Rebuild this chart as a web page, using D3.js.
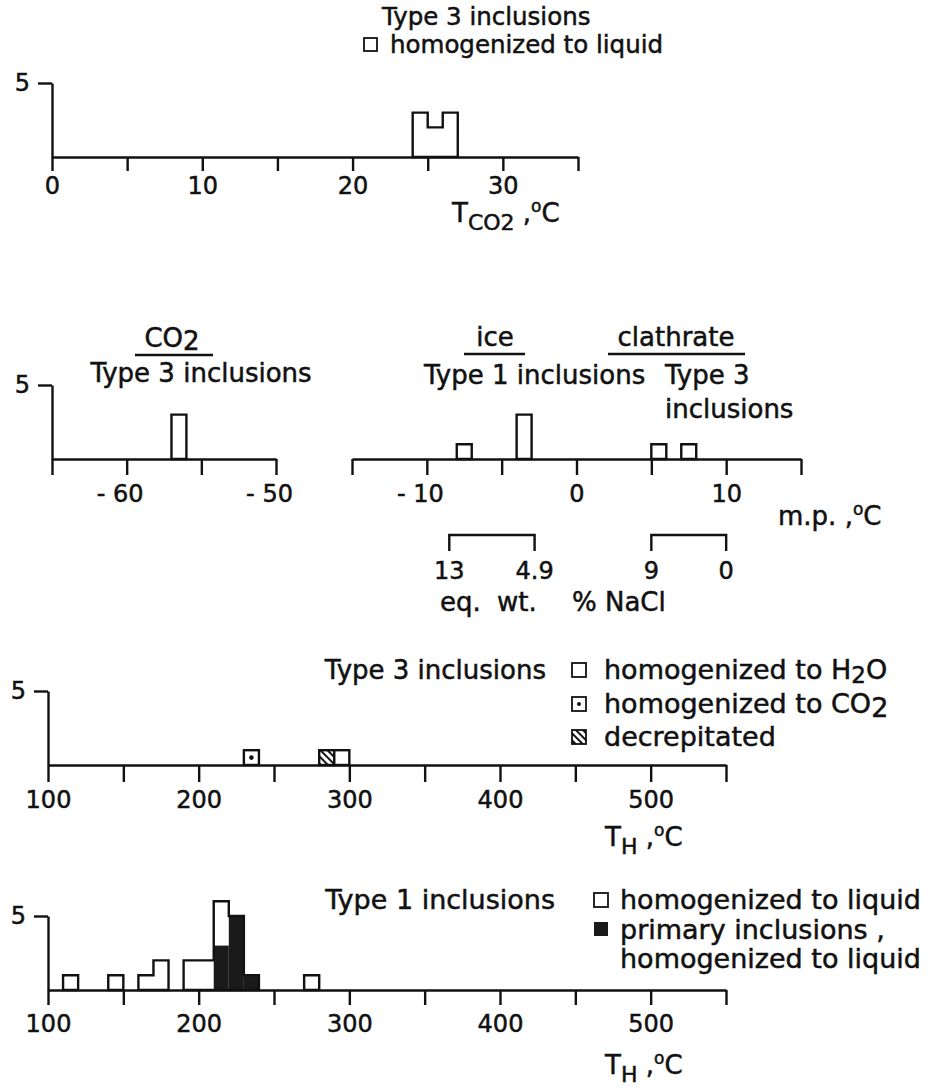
<!DOCTYPE html>
<html>
<head>
<meta charset="utf-8">
<script src="https://cdn.jsdelivr.net/npm/d3@7"></script>
<style>
  body { margin: 0; background: #fff; }
  svg { display: block; }
  text { font-family: "DejaVu Sans", sans-serif; font-size: 26px; fill: #111; stroke: #111; stroke-width: 0.5px; }
  .axis path, .axis line { stroke: #111; stroke-width: 2.4; }
  .axis text { font-size: 24px; }
  text.small { font-size: 24.5px; }
  text.leg { font-size: 27px; }
</style>
</head>
<body>
<svg width="930" height="1089"></svg>
<script>
// T_CO2 histogram, type 3 inclusions (bin start, 1 degree bins)
const tco2Bins = [24, 25, 26];
const tco2Counts = [3, 2, 3];

// melting points
const co2MeltBins = [-57];
const co2MeltCounts = [3];
const iceBins = [-8, -4];
const iceCounts = [1, 3];
const clathBins = [5, 7];
const clathCounts = [1, 1];
const iceSalinity = [-8.5, -2.8];
const iceSalinityLabels = ['13', '4.9'];
const clathSalinity = [5, 10];
const clathSalinityLabels = ['9', '0'];

// T_H type 3 inclusions (10 degree bins)
const th3Bins = [230, 280, 290];
const th3Kinds = ['co2', 'decrep', 'h2o'];

// T_H type 1 inclusions (10 degree bins)
const th1Bins = [110, 140, 160, 170, 190, 200, 210, 220, 230, 270];
const th1Total = [1, 1, 1, 2, 2, 2, 6, 5, 1, 1];
const th1Primary = [0, 0, 0, 0, 0, 0, 3, 5, 1, 0];

const svg = d3.select('svg');
const ink = '#111';
const sw = 2.4;

const defs = svg.append('defs');
defs.append('pattern')
  .attr('id', 'hatch')
  .attr('patternUnits', 'userSpaceOnUse')
  .attr('width', 5)
  .attr('height', 5)
  .attr('patternTransform', 'rotate(-45)')
  .append('line')
  .attr('x1', 1).attr('x2', 1).attr('y1', 0).attr('y2', 5)
  .attr('stroke', ink).attr('stroke-width', 2);

// step outline of contiguous bins
const outline = (g, x, y, starts, counts, w) => {
  const runs = [];
  starts.forEach((s, i) => {
    const last = runs[runs.length - 1];
    const d = { x: s, c: counts[i] };
    if (last && last[last.length - 1].x + w === s) last.push(d);
    else runs.push([d]);
  });
  const pts = runs.map(r => r.concat([{ x: r[r.length - 1].x + w, c: r[r.length - 1].c }]));
  const area = d3.area()
    .curve(d3.curveStepAfter)
    .x(d => x(d.x))
    .y0(y(0))
    .y1(d => y(d.c));
  g.selectAll(null)
    .data(pts)
    .enter()
    .append('path')
    .attr('d', area)
    .attr('fill', 'none')
    .attr('stroke', ink)
    .attr('stroke-width', sw);
};

const minus = d => d < 0 ? '- ' + Math.abs(d) : d;

const xAxis = (g, x, ticks, labels, size, pad) => {
  g.attr('class', 'axis')
    .call(d3.axisBottom(x)
      .tickValues(ticks)
      .tickSize(size)
      .tickSizeOuter(0)
      .tickPadding(pad)
      .tickFormat(d => labels.includes(d) ? minus(d) : ''));
  g.selectAll('.tick text').attr('dx', d => d < 0 ? -7 : 0);
};

const yAxis = (g, y) => {
  g.attr('class', 'axis')
    .call(d3.axisLeft(y).tickValues([5]).tickFormat(d3.format('d')).tickSize(14).tickSizeOuter(0).tickPadding(8));
};

const label = (x, y, parts, anchor, cls) => {
  const t = svg.append('text').attr('x', x).attr('y', y).attr('text-anchor', anchor || 'start');
  if (cls) t.attr('class', cls);
  parts.forEach(p => {
    const s = t.append('tspan').text(p.t);
    if (p.dy) s.attr('dy', p.dy);
    if (p.size) s.style('font-size', p.size + 'px');
  });
  return t;
};

const unit = (x, y, sub) => label(x, y, [
  { t: 'T' }, { t: sub, dy: 8, size: 22 }, { t: ' ,', dy: -8 },
  { t: 'o', dy: -10, size: 17 }, { t: 'C', dy: 10 }
]);

// ---------- panel 1: T_CO2 ----------
{
  const x = d3.scaleLinear().domain([0, 35]).range([52, 578]);
  const y = d3.scaleLinear().domain([0, 5]).range([157, 83]);
  const g = svg.append('g');
  outline(g, x, y, tco2Bins, tco2Counts, 1);
  xAxis(g.append('g').attr('transform', `translate(0,${y(0)})`), x, d3.range(0, 36, 5), [0, 10, 20, 30], 14, 6);
  yAxis(g.append('g').attr('transform', `translate(${x(0)},0)`), y);

  label(382, 25, [{ t: 'Type 3 inclusions' }], 'start', 'small');
  svg.append('rect').attr('x', 364).attr('y', 38).attr('width', 13).attr('height', 13)
    .attr('fill', 'none').attr('stroke', ink).attr('stroke-width', 1.8);
  label(390, 53, [{ t: 'homogenized to liquid' }], 'start', 'small');

  unit(452, 222, 'CO2');
}

// ---------- panel 2: melting points ----------
{
  const y = d3.scaleLinear().domain([0, 5]).range([459, 385]);

  const xl = d3.scaleLinear().domain([-65, -50]).range([52, 276]);
  const gl = svg.append('g');
  outline(gl, xl, y, co2MeltBins, co2MeltCounts, 1);
  xAxis(gl.append('g').attr('transform', `translate(0,${y(0)})`), xl, d3.range(-65, -49, 5), [-60, -50], 16, 10);
  yAxis(gl.append('g').attr('transform', `translate(${xl(-65)},0)`), y);

  const xr = d3.scaleLinear().domain([-15, 15]).range([352, 801]);
  const gr = svg.append('g');
  outline(gr, xr, y, iceBins, iceCounts, 1);
  outline(gr, xr, y, clathBins, clathCounts, 1);
  xAxis(gr.append('g').attr('transform', `translate(0,${y(0)})`), xr, d3.range(-15, 16, 5), [-10, 0, 10], 16, 10);

  // headers
  label(172, 347, [{ t: 'CO' }, { t: '2', dy: 3 }], 'middle');
  svg.append('line').attr('x1', 135).attr('x2', 213).attr('y1', 355).attr('y2', 355).attr('stroke', ink).attr('stroke-width', sw);
  label(201, 382, [{ t: 'Type 3 inclusions' }], 'middle');

  label(495, 346, [{ t: 'ice' }], 'middle');
  svg.append('line').attr('x1', 464).attr('x2', 525).attr('y1', 354).attr('y2', 354).attr('stroke', ink).attr('stroke-width', sw);
  label(676, 346, [{ t: 'clathrate' }], 'middle');
  svg.append('line').attr('x1', 608).attr('x2', 745).attr('y1', 354).attr('y2', 354).attr('stroke', ink).attr('stroke-width', sw);
  label(424, 384, [{ t: 'Type 1 inclusions' }]);
  label(665, 384, [{ t: 'Type 3' }]);
  label(665, 418, [{ t: 'inclusions' }]);

  label(778, 525, [{ t: 'm.p. ,' }, { t: 'o', dy: -10, size: 17 }, { t: 'C', dy: 10 }]);

  // salinity brackets
  const bracket = (vals, labs) => {
    const p = d3.path();
    p.moveTo(xr(vals[0]), 551);
    p.lineTo(xr(vals[0]), 535);
    p.lineTo(xr(vals[1]), 535);
    p.lineTo(xr(vals[1]), 551);
    svg.append('path').attr('d', p.toString()).attr('fill', 'none').attr('stroke', ink).attr('stroke-width', sw);
    vals.forEach((v, i) => label(xr(v), 579, [{ t: labs[i] }], 'middle').style('font-size', '24px'));
  };
  bracket(iceSalinity, iceSalinityLabels);
  bracket(clathSalinity, clathSalinityLabels);

  label(440, 611, [{ t: 'eq.' }]);
  label(497, 611, [{ t: 'wt.' }]);
  label(572, 611, [{ t: '% NaCl' }]);
}

// ---------- panel 3: T_H type 3 ----------
{
  const x = d3.scaleLinear().domain([100, 550]).range([48, 726]);
  const y = d3.scaleLinear().domain([0, 5]).range([765, 691]);
  const g = svg.append('g');

  const fills = { co2: '#fff', decrep: 'url(#hatch)', h2o: '#fff' };
  g.selectAll(null)
    .data(th3Bins)
    .enter()
    .append('rect')
    .attr('x', d => x(d))
    .attr('y', y(1))
    .attr('width', d => x(d + 10) - x(d))
    .attr('height', y(0) - y(1))
    .attr('fill', (d, i) => fills[th3Kinds[i]])
    .attr('stroke', ink)
    .attr('stroke-width', sw);
  g.selectAll(null)
    .data(th3Bins.filter((d, i) => th3Kinds[i] === 'co2'))
    .enter()
    .append('circle')
    .attr('cx', d => x(d + 5))
    .attr('cy', (y(0) + y(1)) / 2)
    .attr('r', 2.3)
    .attr('fill', ink);

  xAxis(g.append('g').attr('transform', `translate(0,${y(0)})`), x, d3.range(100, 551, 50), [100, 200, 300, 400, 500], 17, 9);
  yAxis(g.append('g').attr('transform', `translate(${x(100)},0)`), y);

  label(546, 679, [{ t: 'Type 3 inclusions' }], 'end');
  const lx = 572, s = 14;
  svg.append('rect').attr('x', lx).attr('y', 663).attr('width', s).attr('height', s)
    .attr('fill', '#fff').attr('stroke', ink).attr('stroke-width', 1.8);
  svg.append('rect').attr('x', lx).attr('y', 697).attr('width', s).attr('height', s)
    .attr('fill', '#fff').attr('stroke', ink).attr('stroke-width', 1.8);
  svg.append('circle').attr('cx', lx + s / 2).attr('cy', 697 + s / 2).attr('r', 2).attr('fill', ink);
  svg.append('rect').attr('x', lx).attr('y', 730).attr('width', s).attr('height', s)
    .attr('fill', 'url(#hatch)').attr('stroke', ink).attr('stroke-width', 1.8);
  label(604, 679, [{ t: 'homogenized to H' }, { t: '2', dy: 4, size: 23 }, { t: 'O', dy: -4 }], 'start', 'leg');
  label(604, 713, [{ t: 'homogenized to CO' }, { t: '2', dy: 4 }], 'start', 'leg');
  label(604, 746, [{ t: 'decrepitated' }], 'start', 'leg');

  unit(605, 846, 'H');
}

// ---------- panel 4: T_H type 1 ----------
{
  const x = d3.scaleLinear().domain([100, 550]).range([48, 726]);
  const y = d3.scaleLinear().domain([0, 5]).range([990, 916]);
  const g = svg.append('g');

  g.selectAll(null)
    .data(th1Bins.filter((d, i) => th1Primary[i] > 0))
    .enter()
    .append('rect')
    .attr('x', d => x(d))
    .attr('y', d => y(th1Primary[th1Bins.indexOf(d)]))
    .attr('width', d => x(d + 10) - x(d))
    .attr('height', d => y(0) - y(th1Primary[th1Bins.indexOf(d)]))
    .attr('fill', '#1a1a1a');
  outline(g, x, y, th1Bins, th1Total, 10);

  xAxis(g.append('g').attr('transform', `translate(0,${y(0)})`), x, d3.range(100, 551, 50), [100, 200, 300, 400, 500], 15, 10);
  yAxis(g.append('g').attr('transform', `translate(${x(100)},0)`), y);

  label(555, 909, [{ t: 'Type 1 inclusions' }], 'end', 'leg');
  svg.append('rect').attr('x', 594).attr('y', 893).attr('width', 14).attr('height', 14)
    .attr('fill', '#fff').attr('stroke', ink).attr('stroke-width', 1.8);
  svg.append('rect').attr('x', 594).attr('y', 922).attr('width', 14).attr('height', 14)
    .attr('fill', '#1a1a1a');
  label(620, 909, [{ t: 'homogenized to liquid' }], 'start', 'leg');
  label(620, 939, [{ t: 'primary inclusions ,' }], 'start', 'leg');
  label(620, 968, [{ t: 'homogenized to liquid' }], 'start', 'leg');

  unit(605, 1074, 'H');
}
</script>
</body>
</html>
